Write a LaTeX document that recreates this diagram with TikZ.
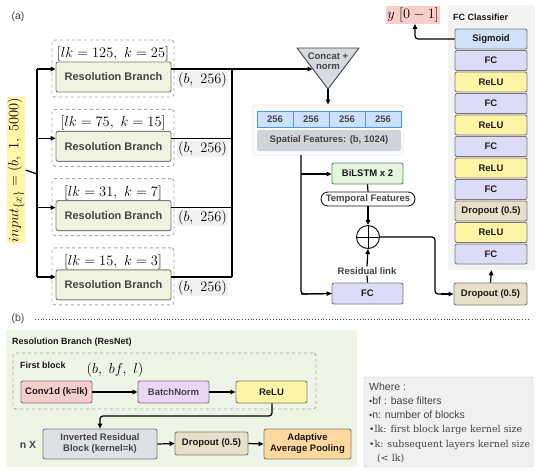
\documentclass[tikz,border=0pt]{standalone}
\usepackage{fontspec}
\setsansfont{Liberation Sans}
\newfontfamily\serifx{DejaVu Serif}
\usetikzlibrary{arrows.meta,calc}
\definecolor{cblue}{HTML}{CFE2F7}
\definecolor{cfc}{HTML}{DCDCF7}
\definecolor{cyel}{HTML}{FFF4A6}
\definecolor{cdrop}{HTML}{E7E0C9}
\definecolor{cbranch}{HTML}{EEF3E2}
\definecolor{clab}{HTML}{F1F1F1}
\definecolor{cinput}{HTML}{FFF6A8}
\definecolor{cpink}{HTML}{F8CECC}
\definecolor{ctri}{HTML}{D5DAE0}
\definecolor{ccell}{HTML}{CCE1FF}
\definecolor{ccellb}{HTML}{4D94F0}
\definecolor{csf}{HTML}{D0D4DA}
\definecolor{cbil}{HTML}{E3F6DE}
\definecolor{cfcc}{HTML}{F3F3F3}
\definecolor{cbg}{HTML}{EEF4E6}
\definecolor{cbn}{HTML}{EBD6F5}
\definecolor{cirb}{HTML}{DDE1E6}
\definecolor{caap}{HTML}{FFD89E}
\definecolor{cwhere}{HTML}{EFF0F2}
\definecolor{bgray}{HTML}{7A7A7A}
\definecolor{dgray}{HTML}{A8A8A8}
\definecolor{tgray}{HTML}{444444}
\definecolor{tdark}{HTML}{1A1A1A}
\tikzset{
  base/.style={font=\sffamily\bfseries\fontsize{9.5}{11}\selectfont, align=center, inner sep=0pt, text=tdark},
  box/.style={base, draw=bgray, line width=0.9pt, rounded corners=2pt},
  arr/.style={line width=1.2pt, -{Triangle[length=5pt,width=4.5pt]}},
  ln/.style={line width=1.2pt},
  mth/.style={font=\fontsize{14}{16}\selectfont, inner sep=1pt},
  dbox/.style={draw=dgray, dashed, line width=0.9pt, rounded corners=3pt, inner sep=0pt},
  branchbox/.style={box, fill=cbranch, text=tgray, font=\sffamily\bfseries\fontsize{11}{13}\selectfont, minimum width=115pt, minimum height=30pt},
  blab/.style={fill=clab, inner sep=1pt, font=\fontsize{15}{17}\selectfont},
  layer/.style={box, minimum width=72pt, minimum height=20pt},
  wtxt/.style={anchor=west, inner sep=0pt, text=tgray},
}
\newcommand{\bul}{{\fontsize{9}{9}\selectfont\raisebox{0.3pt}{•}}}
\begin{document}
\begin{tikzpicture}[x=1pt,y=-1pt]
\useasboundingbox (0,0) rectangle (540,475);
\fill[white] (0,0) rectangle (540,475);

% ---------- (a) ----------
\node[font=\sffamily\fontsize{10.5}{12}\selectfont, text=tgray] (la) at (18,17) {(a)};

% input
\node[rotate=90, fill=cinput, inner sep=1pt, font=\fontsize{15}{17}\selectfont] (inp) at (16,170) {$input_{\{x\}} = (b,\ 1,\ 5000)$};

% branches
\foreach \i/\lab in {1/{[lk = 125,\ k = 25]},2/{[lk = 75,\ k = 15]},3/{[lk = 31,\ k = 7]},4/{[lk = 15,\ k = 3]}}{
  \pgfmathsetmacro{\yo}{40+69.3*(\i-1)}
  \node[dbox, minimum width=122pt, minimum height=57pt] (o\i) at (113, {\yo+28.5}) {};
  \node[mth] (t\i) at (113, {\yo+14}) {$\lab$};
  \node[branchbox] (b\i) at (113.5, {\yo+37}) {Resolution Branch};
  \coordinate (j\i) at (37, {\yo+29});
  \coordinate (c\i) at (232, {\yo+29});
  \node[blab] (bl\i) at (202.5, {\yo+39.5}) {$(b,\ 256)$};
}
\coordinate (jm) at (37,174);
\draw[ln] (inp.south) -- (jm);
\draw[ln] (j1) -- (j4);
\foreach \i in {1,...,4}{
  \draw[arr] (j\i) -- (j\i -| b\i.west);
}
\foreach \i in {2,3,4}{
  \draw[ln] (c\i -| b\i.east) -- (c\i);
}
\draw[ln] (c1) -- (c4);

% concat triangle
\coordinate (tl) at (297,48);
\coordinate (tr) at (359,48);
\coordinate (tapex) at (328,89);
\coordinate (tin) at (312.5,69);
\filldraw[fill=ctri, draw=tgray, line width=0.9pt, line join=round] (tl) -- (tr) -- (tapex) -- cycle;
\node[base, text=tgray] (cat) at (328,61) {Concat +\\[-1pt]norm};
\draw[arr] (c1 -| b1.east) -- (tin);

% spatial features
\node[draw=ctri!70, fill=white, line width=0.9pt, rounded corners=3pt, minimum width=150pt, minimum height=50pt, inner sep=0pt] (spc) at (328,130) {};
\foreach \k in {1,...,4}{
  \node[base, text=tgray, draw=ccellb, fill=ccell, line width=0.8pt, minimum width=36pt, minimum height=16pt] (cell\k) at ({257+36*(\k-1)+18},119) {256};
}
\node[base, text=tgray, fill=csf, rounded corners=2pt, minimum width=144pt, minimum height=21pt] (sf) at (329,140.5) {Spatial Features: (b, 1024)};
\draw[arr] (tapex) -- (spc.north);

% temporal path
\node[box, fill=cbil, minimum width=71pt, minimum height=21pt] (bil) at (367.5,173.5) {BiLSTM x 2};
\node[box, fill=white, draw=tdark, rounded corners=7pt, minimum width=94pt, minimum height=14pt, text=tgray] (tf) at (368,199) {Temporal Features};
\node[draw=tdark, line width=1pt, circle, minimum size=23pt, inner sep=0pt] (add) at (368,237) {};
\draw[line width=0.9pt] (add.north) -- (add.south) (add.west) -- (add.east);
\node[base, text=tgray, fill=white, inner sep=1pt] (rl) at (367,271) {Residual link};
\node[box, fill=cfc, minimum width=71pt, minimum height=21pt] (fc1) at (367.5,293.5) {FC};
\coordinate (sv) at (301,155);
\coordinate (sv1) at (301,174);
\coordinate (sv2) at (301,294);
\draw[ln, rounded corners=3pt] (sv) -- (sv2) -- (fc1.west);
\draw[arr] (sv2) -- (fc1.west);
\draw[arr] (sv1) -- (sv1 -| bil.west);
\draw[ln] (bil.south) -- (tf.north);
\draw[arr] (tf.south) -- (add.north);
\draw[ln] (fc1.north) -- (rl.south);
\draw[arr] (rl.north) -- (add.south);

% dropout + classifier
\node[box, fill=cdrop, minimum width=73pt, minimum height=22pt] (do1) at (490.5,294) {Dropout (0.5)};
\coordinate (ra) at (435,237);
\coordinate (rb) at (435,294);
\draw[ln, rounded corners=3pt] (add.east) -- (ra) -- (rb) -- ($(rb)+(8,0)$);
\draw[arr] ($(rb)+(6,0)$) -- (do1.west);
\node[fill=cfcc, minimum width=87pt, minimum height=265pt, inner sep=0pt] (fcc) at (491.5,137.5) {};
\node[base, anchor=west, font=\sffamily\bfseries\fontsize{9}{11}\selectfont] (fct) at (453,17) {FC Classifier};
\draw[arr] (do1.north) -- (fcc.south);
\foreach \t/\c [count=\i] in {Sigmoid/cblue, FC/cfc, ReLU/cyel, FC/cfc, ReLU/cyel, FC/cfc, ReLU/cyel, FC/cfc, Dropout (0.5)/cdrop, ReLU/cyel, FC/cfc}{
  \node[layer, fill=\c] (L\i) at (491, {39+21.5*(\i-1)}) {\t};
}
\node[fill=cpink, inner sep=1.5pt, font=\fontsize{15}{17}\selectfont] (out) at (413,15) {$y\ [0-1]$};
\coordinate (oc) at (415,39);
\draw[arr, rounded corners=3pt] (L1.west) -- (oc) -- (oc |- out.south);

% ---------- (b) ----------
\node[font=\sffamily\fontsize{10.5}{12}\selectfont, text=tgray] (lb) at (18,319) {(b)};
\coordinate (dl1) at (35,319);
\coordinate (dl2) at (530,319);
\draw[dotted, line width=0.8pt, draw=tgray] (dl1) -- (dl2);

\node[fill=cbg, minimum width=351pt, minimum height=137pt, inner sep=0pt] (bgb) at (181.5,398.5) {};
\node[base, anchor=west, font=\sffamily\bfseries\fontsize{9}{11}\selectfont] (rbt) at (12,342) {Resolution Branch (ResNet)};
\node[dbox, minimum width=303pt, minimum height=56pt] (fb) at (164.5,381) {};
\node[base, anchor=west, font=\sffamily\bfseries\fontsize{9}{11}\selectfont] (fbt) at (20,365) {First block};
\node[font=\fontsize{15}{17}\selectfont, inner sep=0pt] (bbf) at (115,370) {$(b,\ bf,\ l)$};
\node[box, fill=cpink, minimum width=71pt, minimum height=22pt] (conv) at (56.5,392) {Conv1d (k=lk)};
\node[box, fill=cbn, text=tgray, minimum width=71pt, minimum height=22pt] (bn) at (173.5,392) {BatchNorm};
\node[box, fill=cyel, minimum width=71pt, minimum height=22pt] (relu2) at (271.5,392) {ReLU};
\draw[arr] (conv.east) -- (bn.west);
\draw[arr] (bn.east) -- (relu2.west);
\node[box, fill=cirb, text=tgray, minimum width=114pt, minimum height=30pt] (irb) at (100,444) {Inverted Residual\\[0pt]Block (kernel=k)};
\node[base, text=tgray, font=\sffamily\bfseries\fontsize{10.5}{12}\selectfont] (nx) at (28,445) {n X};
\node[box, fill=cdrop, minimum width=73pt, minimum height=23pt] (do2) at (211.5,443.5) {Dropout (0.5)};
\node[box, fill=caap, minimum width=87pt, minimum height=30pt] (aap) at (307.5,444) {Adaptive\\[0pt]Average Pooling};
\coordinate (rr) at (272,416);
\draw[arr, rounded corners=3pt] (relu2.south -| rr) -- (rr) -- (irb.north |- rr) -- (irb.north);
\draw[arr] (irb.east) -- (do2.west);
\draw[arr] (do2.east) -- (aap.west);

% where box
\node[draw=dgray!70, fill=cwhere, rounded corners=2pt, minimum width=169pt, minimum height=90pt, inner sep=0pt] (wb) at (448.5,422) {};
\node[wtxt, font=\sffamily\fontsize{10.5}{12}\selectfont] (w0) at (369,387) {Where :};
\node[wtxt, font=\sffamily\fontsize{10.5}{12}\selectfont] (w1) at (369,401) {\bul bf : base filters};
\node[wtxt, font=\sffamily\fontsize{10.5}{12}\selectfont] (w2) at (369,415) {\bul n: number of blocks};
\node[wtxt, font=\serifx\fontsize{9.5}{12}\selectfont] (w3) at (369,430) {\bul lk: first block large kernel size};
\node[wtxt, font=\serifx\fontsize{9.5}{12}\selectfont] (w4) at (369,445) {\bul k: subsequent layers kernel size};
\node[wtxt, font=\serifx\fontsize{9.5}{12}\selectfont] (w5) at (377,459) {(< lk)};
\end{tikzpicture}
\end{document}
